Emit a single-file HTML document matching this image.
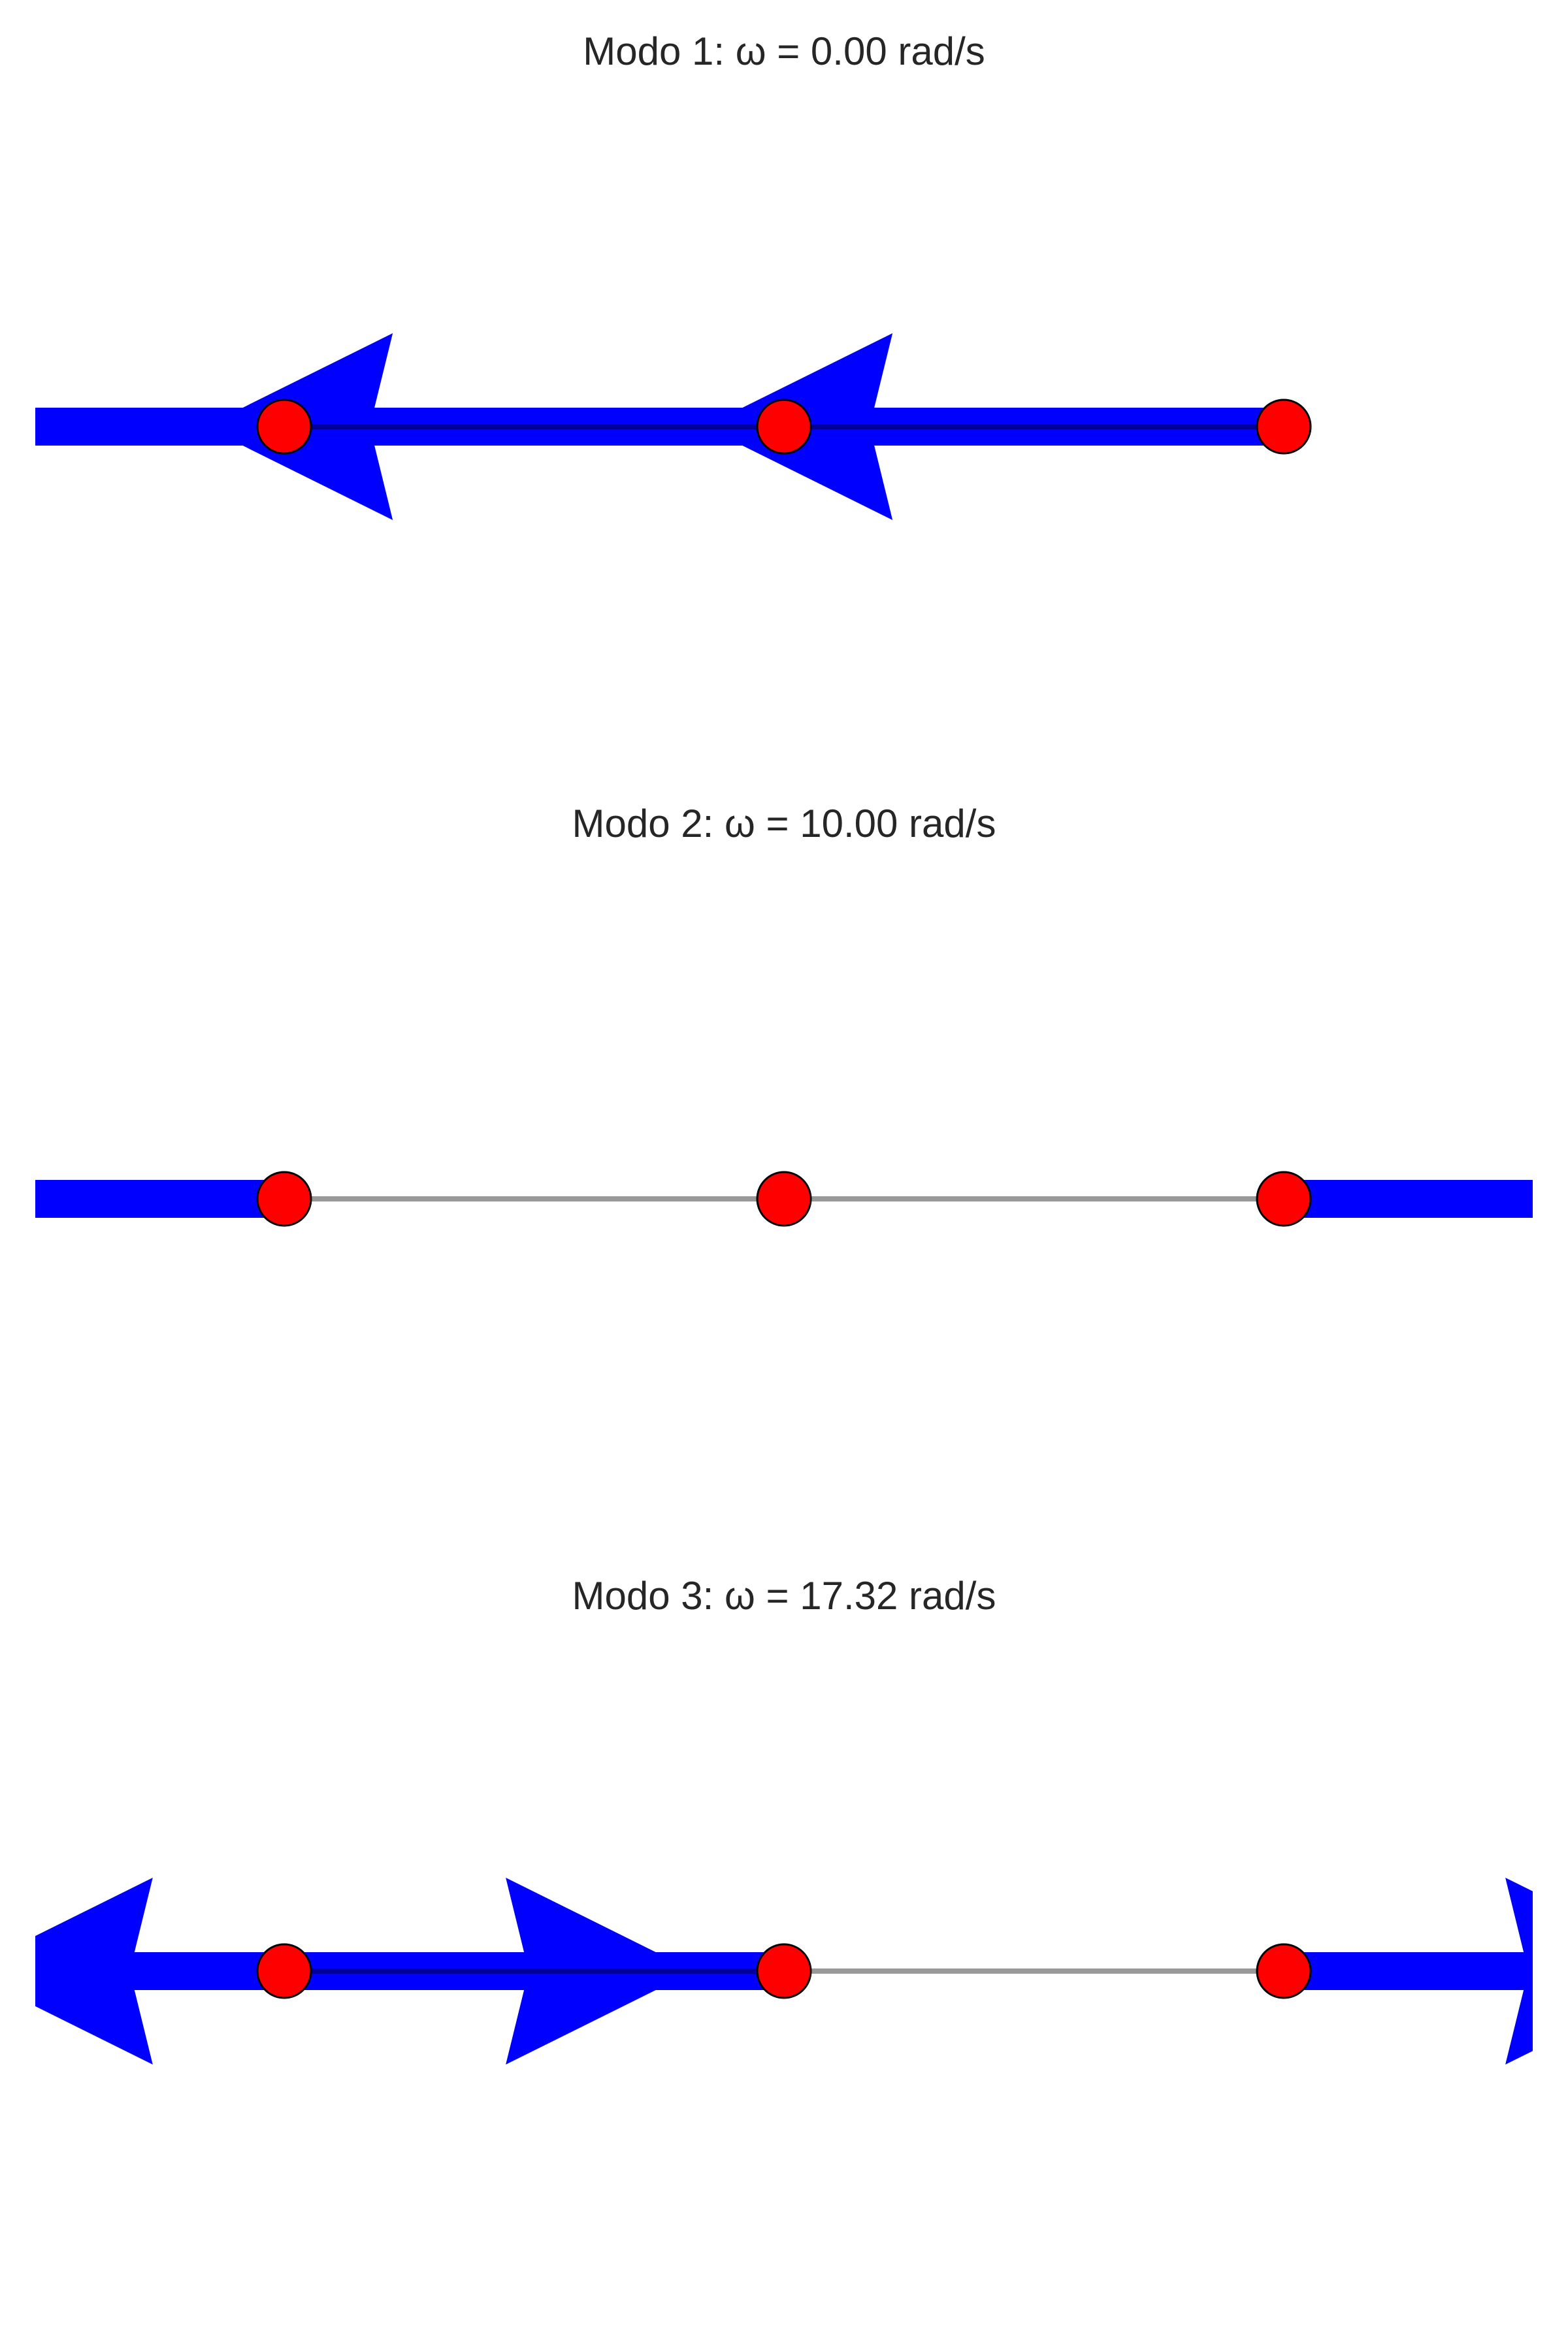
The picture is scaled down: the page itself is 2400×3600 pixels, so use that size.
<!DOCTYPE html>
<html>
<head>
<meta charset="utf-8">
<style>
html,body{margin:0;padding:0;background:#fff;}
svg{display:block;}
text{font-family:"Liberation Sans",Arial,sans-serif;}
</style>
</head>
<body>
<svg id="chart" width="2400" height="3600" viewBox="0 0 2400 3600" xmlns="http://www.w3.org/2000/svg">
<defs>
<clipPath id="plotclip"><rect x="54" y="0" width="2292" height="3600"/></clipPath>
</defs>
<rect width="2400" height="3600" fill="#fff"/>
</svg>
<script>
// data
const modeTitles = ["Modo 1: ω = 0.00 rad/s", "Modo 2: ω = 10.00 rad/s", "Modo 3: ω = 17.32 rad/s"];
const massPositions = [0, 1, 2];
const mode1 = [-0.577, -0.577, -0.577];
const mode2 = [-0.707, 0, 0.707];
const mode3 = [0.408, -0.816, 0.408];
const modes = [mode1, mode2, mode3];

const svg = document.getElementById('chart');
const NS = 'http://www.w3.org/2000/svg';
const xScale = p => 435 + p * 765;
const ampScale = a => a * 1537;
const panelY = i => 653 + i * 1182;
const titleY = i => 99 + i * 1182;

function mk(tag, attrs, parent) {
  const el = document.createElementNS(NS, tag);
  for (const k in attrs) el.setAttribute(k, attrs[k]);
  (parent || svg).appendChild(el);
  return el;
}

modes.forEach((mode, i) => {
  const cy = panelY(i);
  const g = mk('g', {});
  
  

  const t = mk('text', {x: 1200, y: titleY(i), 'text-anchor': 'middle', 'font-size': 60, fill: '#262626'}, g);
  t.textContent = modeTitles[i];
  
  

  const ag = mk('g', {'clip-path': 'url(#plotclip)'}, g);
  mode.forEach((v, j) => {
    const L = ampScale(v);
    if (Math.abs(L) < 1) return;
    const x0 = xScale(massPositions[j]);
    const d = Math.sign(L);
    const tip = x0 + L;
    const pts = [
      [x0, cy - 29], [tip - 260 * d, cy - 29], [tip - 288 * d, cy - 143], [tip, cy],
      [tip - 288 * d, cy + 143], [tip - 260 * d, cy + 29], [x0, cy + 29]
    ].map(p => p.join(',')).join(' ');
    const a = mk('polygon', {points: pts, fill: '#0000ff'}, ag);
    
    
  });

  const line = mk('line', {x1: xScale(massPositions[0]), y1: cy, x2: xScale(massPositions[massPositions.length - 1]), y2: cy,
    stroke: '#999999', 'stroke-width': 8, style: 'mix-blend-mode:multiply'}, g);
  
  

  massPositions.forEach(p => {
    const c = mk('circle', {cx: xScale(p), cy: cy, r: 41, fill: '#ff0000', stroke: '#000', 'stroke-width': 3}, g);
    
    
  });
});
</script>
</body>
</html>
